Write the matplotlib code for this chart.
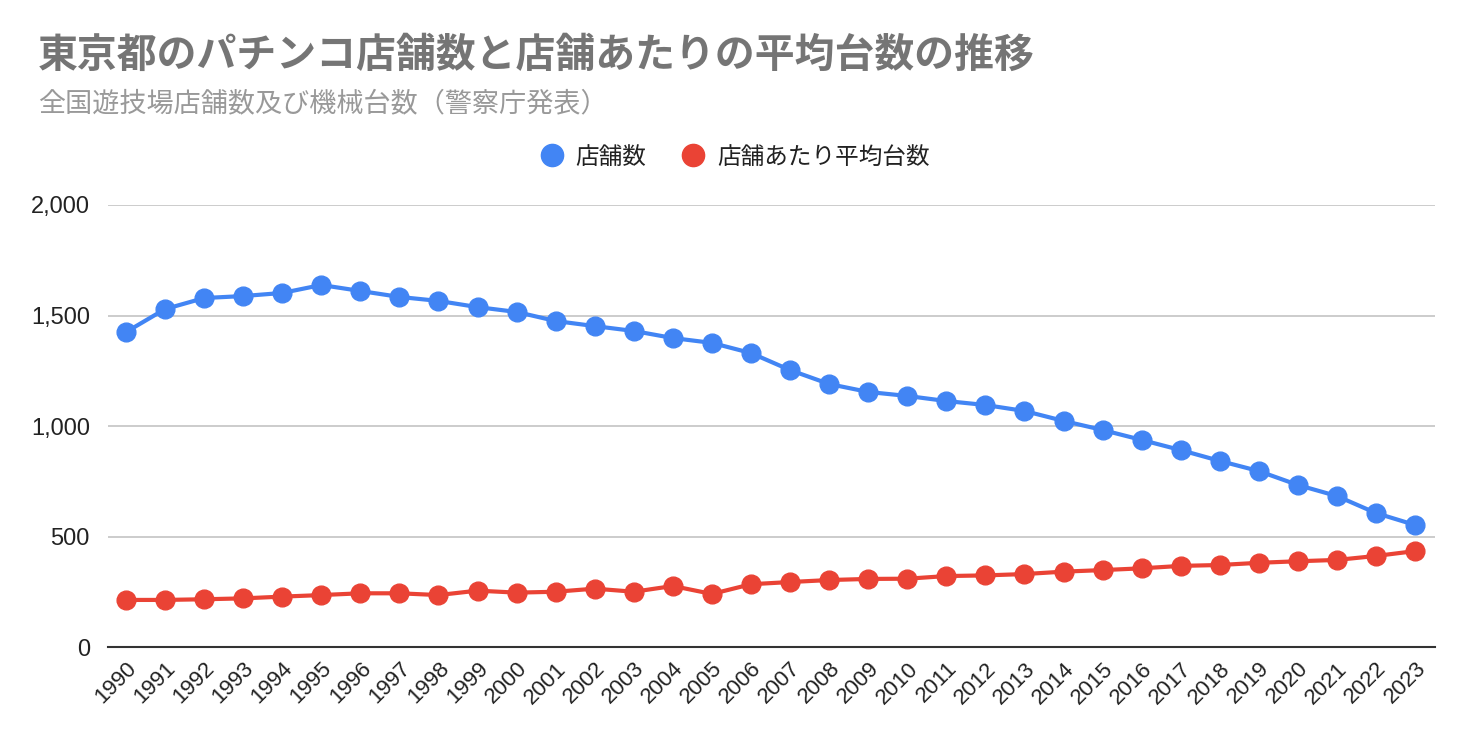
import matplotlib
matplotlib.use("Agg")
import matplotlib.pyplot as plt
from matplotlib.ticker import FuncFormatter, MultipleLocator

# ── Colours ───────────────────────────────────────────────────────────────────
BLUE  = "#4285F4"
RED   = "#EA4335"
TITLE = "#757575"
SUB   = "#999999"
GRID  = "#cccccc"
TEXT  = "#222222"

JP = ["Noto Sans CJK JP", "DejaVu Sans"]
NUM = ["Liberation Sans", "DejaVu Sans"]

# ── Data ──────────────────────────────────────────────────────────────────────
YEARS = list(range(1990, 2024))

STORES = [
    1425, 1529, 1579, 1588, 1602, 1638, 1611, 1584, 1566, 1538,
    1516, 1475, 1452, 1430, 1398, 1376, 1330, 1253, 1190, 1154,
    1136, 1113, 1095, 1068, 1023, 982, 937, 891, 842, 796,
    733, 683, 606, 552,
]

AVG_MACHINES = [
    213, 213, 216, 220, 228, 235, 243, 243, 235, 255,
    246, 250, 264, 250, 276, 240, 284, 294, 303, 308,
    309, 321, 324, 330, 341, 348, 356, 367, 371, 381,
    388, 394, 412, 434,
]

LABELS = ["店舗数", "店舗あたり平均台数"]
TITLE_TEXT = "東京都のパチンコ店舗数と店舗あたりの平均台数の推移"
SUBTITLE_TEXT = "全国遊技場店舗数及び機械台数（警察庁発表）"

# ── Figure ────────────────────────────────────────────────────────────────────
fig = plt.figure(figsize=(14.72, 7.42), dpi=100)
ax = fig.add_axes([108 / 1472, 95 / 742, (1435 - 108) / 1472, (647 - 205) / 742])

x = list(range(len(YEARS)))
ax.plot(x, STORES, color=BLUE, lw=3, marker="o", ms=13.5, zorder=4,
        label=LABELS[0], solid_capstyle="round")
ax.plot(x, AVG_MACHINES, color=RED, lw=3, marker="o", ms=13.5, zorder=4,
        label=LABELS[1], solid_capstyle="round")

# ── Axes ──────────────────────────────────────────────────────────────────────
ax.set_xlim(-0.46, len(YEARS) - 1 + 0.51)
ax.set_ylim(0, 2000)
ax.yaxis.set_major_locator(MultipleLocator(500))
ax.yaxis.set_major_formatter(FuncFormatter(lambda v, p: f"{int(v):,}"))
ax.set_xticks(x)
ax.set_xticklabels([str(y) for y in YEARS], rotation=45, ha="right",
                   rotation_mode="anchor", fontsize=16, family=NUM, color=TEXT)
for lab in ax.get_yticklabels():
    lab.set_fontsize(17)
    lab.set_family(NUM)
    lab.set_color(TEXT)

ax.yaxis.grid(True, color=GRID, lw=1.4, zorder=0)
ax.set_axisbelow(True)
for s in ["top", "right", "left"]:
    ax.spines[s].set_visible(False)
ax.spines["bottom"].set_color("#333333")
ax.spines["bottom"].set_linewidth(1.5)
ax.tick_params(axis="y", length=0, pad=13)
ax.tick_params(axis="x", length=0, pad=8)

# ── Titles ────────────────────────────────────────────────────────────────────
fig.text(38 / 1472, 1 - 55 / 742, TITLE_TEXT, fontsize=28.7, fontweight="bold",
         color=TITLE, family=JP, va="center", ha="left")
fig.text(38 / 1472, 1 - 104 / 742, SUBTITLE_TEXT, fontsize=19.5,
         color=SUB, family=JP, va="center", ha="left")

# ── Legend ────────────────────────────────────────────────────────────────────
leg = fig.legend(loc="center", bbox_to_anchor=(0.5, 1 - 157 / 742), ncol=2,
                 frameon=False, prop={"family": JP, "size": 17},
                 handlelength=0.8, handletextpad=0.6, columnspacing=1.6,
                 labelcolor=TEXT)
for h in leg.legend_handles:
    h.set_linestyle("none")
    h.set_markersize(16)

fig.savefig("out.png", dpi=100, facecolor="white")
